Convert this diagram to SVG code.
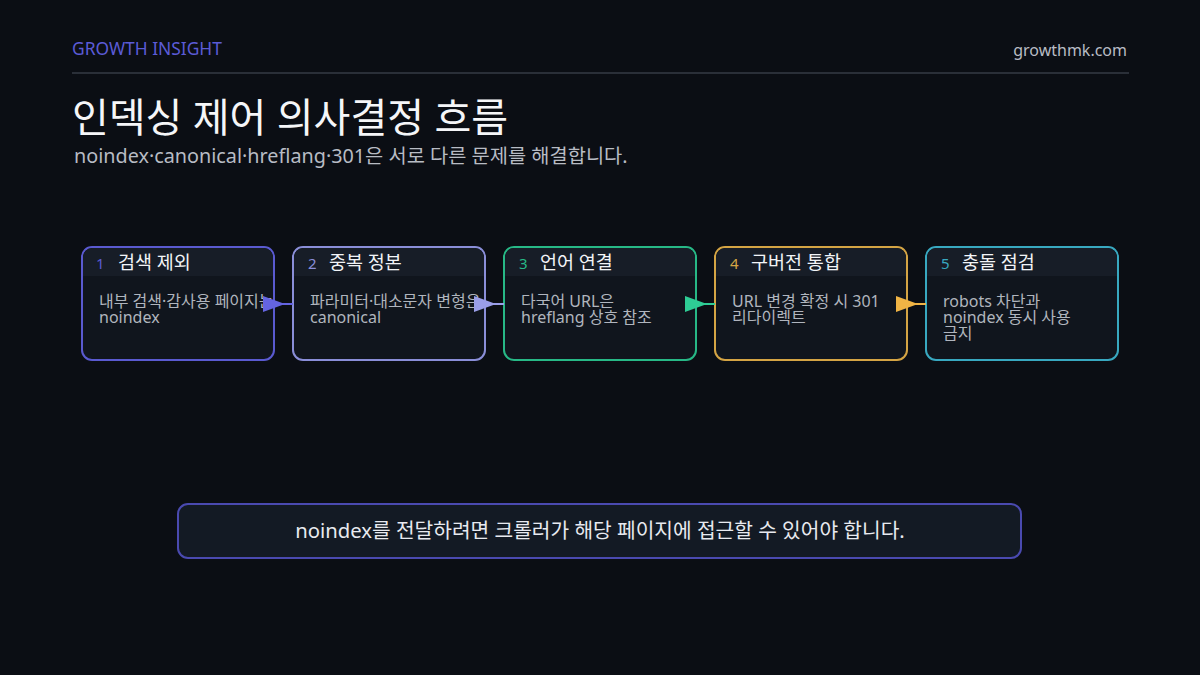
<svg xmlns="http://www.w3.org/2000/svg" width="1200" height="675" viewBox="0 0 1200 675">
<defs>
<style>
text{font-family:"Noto Sans","Noto Sans CJK KR",sans-serif;}
.card{fill:#10151d;stroke-width:2;}
.band{fill:#171d27;}
.num{font-size:15px;}
.ttl{font-size:18.5px;fill:#f2f4f7;}
.body{font-size:16px;fill:#b0b5be;}
.conn{stroke-width:2;fill:none;}
</style>
<marker id="a1" markerUnits="userSpaceOnUse" viewBox="0 0 22 16" markerWidth="22" markerHeight="16" refX="30" refY="8" orient="auto"><path d="M0,0 L22,8 L0,16 z" fill="#6464e0"/></marker>
<marker id="a2" markerUnits="userSpaceOnUse" viewBox="0 0 22 16" markerWidth="22" markerHeight="16" refX="30" refY="8" orient="auto"><path d="M0,0 L22,8 L0,16 z" fill="#9a9ee8"/></marker>
<marker id="a3" markerUnits="userSpaceOnUse" viewBox="0 0 22 16" markerWidth="22" markerHeight="16" refX="30" refY="8" orient="auto"><path d="M0,0 L22,8 L0,16 z" fill="#2ecc95"/></marker>
<marker id="a4" markerUnits="userSpaceOnUse" viewBox="0 0 22 16" markerWidth="22" markerHeight="16" refX="30" refY="8" orient="auto"><path d="M0,0 L22,8 L0,16 z" fill="#f0b445"/></marker>
</defs>
<rect width="1200" height="675" fill="#0b0e14"/>
<g id="header">
<text x="72" y="55" font-size="17.4" fill="#5b5bd6">GROWTH INSIGHT</text>
<text x="1127" y="56" font-size="16" fill="#b8bcc4" text-anchor="end">growthmk.com</text>
<line x1="72" y1="73" x2="1129" y2="73" stroke="#2a2f38" stroke-width="2"/>
<text x="72" y="132" font-size="40" fill="#f5f6f8">인덱싱 제어 의사결정 흐름</text>
<text x="74" y="163" font-size="19.8" fill="#b8bcc4">noindex·canonical·hreflang·301은 서로 다른 문제를 해결합니다.</text>
</g>
<g id="card1">
<rect class="card" x="82" y="247" width="192" height="113" rx="10" stroke="#5a5ad0"/>
<path class="band" d="M83,276 V257 a9,9 0 0 1 9,-9 H264 a9,9 0 0 1 9,9 V276 z"/>
<text class="num" x="96" y="269" fill="#5a5ad0">1</text>
<text class="ttl" x="118" y="269">검색 제외</text>
<text class="body" x="99" y="307">내부 검색·감사용 페이지는</text>
<text class="body" x="99" y="323">noindex</text>
</g>
<g id="card2">
<rect class="card" x="293" y="247" width="192" height="113" rx="10" stroke="#8a8ed8"/>
<path class="band" d="M294,276 V257 a9,9 0 0 1 9,-9 H475 a9,9 0 0 1 9,9 V276 z"/>
<text class="num" x="308" y="269" fill="#8a8ed8">2</text>
<text class="ttl" x="329" y="269">중복 정본</text>
<text class="body" x="310" y="307">파라미터·대소문자 변형은</text>
<text class="body" x="310" y="323">canonical</text>
</g>
<g id="card3">
<rect class="card" x="504" y="247" width="192" height="113" rx="10" stroke="#27b886"/>
<path class="band" d="M505,276 V257 a9,9 0 0 1 9,-9 H686 a9,9 0 0 1 9,9 V276 z"/>
<text class="num" x="519" y="269" fill="#27b886">3</text>
<text class="ttl" x="540" y="269">언어 연결</text>
<text class="body" x="521" y="307">다국어 URL은</text>
<text class="body" x="521" y="323">hreflang 상호 참조</text>
</g>
<g id="card4">
<rect class="card" x="715" y="247" width="192" height="113" rx="10" stroke="#d4a444"/>
<path class="band" d="M716,276 V257 a9,9 0 0 1 9,-9 H897 a9,9 0 0 1 9,9 V276 z"/>
<text class="num" x="730" y="269" fill="#d4a444">4</text>
<text class="ttl" x="751" y="269">구버전 통합</text>
<text class="body" x="732" y="307">URL 변경 확정 시 301</text>
<text class="body" x="732" y="323">리다이렉트</text>
</g>
<g id="card5">
<rect class="card" x="926" y="247" width="192" height="113" rx="10" stroke="#38a8c0"/>
<path class="band" d="M927,276 V257 a9,9 0 0 1 9,-9 H1108 a9,9 0 0 1 9,9 V276 z"/>
<text class="num" x="941" y="269" fill="#38a8c0">5</text>
<text class="ttl" x="962" y="269">충돌 점검</text>
<text class="body" x="943" y="307">robots 차단과</text>
<text class="body" x="943" y="323">noindex 동시 사용</text>
<text class="body" x="943" y="339">금지</text>
</g>
<g id="connectors">
<line class="conn" x1="264" y1="304" x2="293" y2="304" stroke="#6464e0" marker-end="url(#a1)"/>
<line class="conn" x1="475" y1="304" x2="504" y2="304" stroke="#9a9ee8" marker-end="url(#a2)"/>
<line class="conn" x1="686" y1="304" x2="715" y2="304" stroke="#2ecc95" marker-end="url(#a3)"/>
<line class="conn" x1="897" y1="304" x2="926" y2="304" stroke="#f0b445" marker-end="url(#a4)"/>
</g>
<g id="note">
<rect x="178" y="504" width="843" height="54" rx="10" fill="#131a24" stroke="#4a4ab0" stroke-width="2"/>
<text x="600" y="538" font-size="20.3" fill="#e8eaf0" text-anchor="middle">noindex를 전달하려면 크롤러가 해당 페이지에 접근할 수 있어야 합니다.</text>
</g>
</svg>
